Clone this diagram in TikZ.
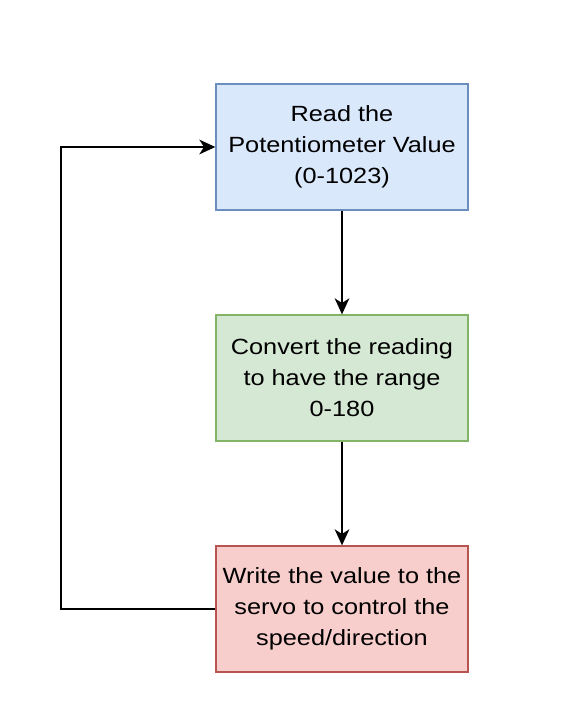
\documentclass[tikz,border=0pt]{standalone}
\usepackage{fontspec}
\setmainfont{Liberation Sans}[FakeStretch=1.15]
\usepackage{xcolor}
\usetikzlibrary{arrows.meta,positioning}

\definecolor{readfill}{HTML}{DAE8FC}
\definecolor{readline}{HTML}{6C8EBF}
\definecolor{convfill}{HTML}{D5E8D4}
\definecolor{convline}{HTML}{82B366}
\definecolor{writefill}{HTML}{F8CECC}
\definecolor{writeline}{HTML}{B85450}

\begin{document}
\begin{tikzpicture}[
  x=0.75pt,
  y=-0.75pt,
  stepbox/.style={
    draw,
    line width=1pt,
    minimum width=189pt,
    minimum height=94.5pt,
    inner sep=0pt,
    align=center,
    font=\fontsize{16.5}{23.3}\selectfont
  },
  link/.style={-{Stealth[length=12pt,width=11pt,inset=3.5pt]}, line width=1.4pt}
]
  \useasboundingbox (0,0) rectangle (583,720);

  \node[stepbox, fill=readfill, draw=readline] (read) at (342,147)
    {Read the\\Potentiometer Value\\(0-1023)};
  \node[stepbox, fill=convfill, draw=convline] (convert) at (342,378)
    {Convert the reading\\to have the range\\0-180};
  \node[stepbox, fill=writefill, draw=writeline] (write) at (342,609)
    {Write the value to the\\servo to control the\\speed/direction};

  \coordinate (loop) at (61,378);

  \draw[link] (read) -- (convert);
  \draw[link] (convert) -- (write);
  \draw[link] (write.west) -- (write.west -| loop) |- (read.west);
\end{tikzpicture}
\end{document}
